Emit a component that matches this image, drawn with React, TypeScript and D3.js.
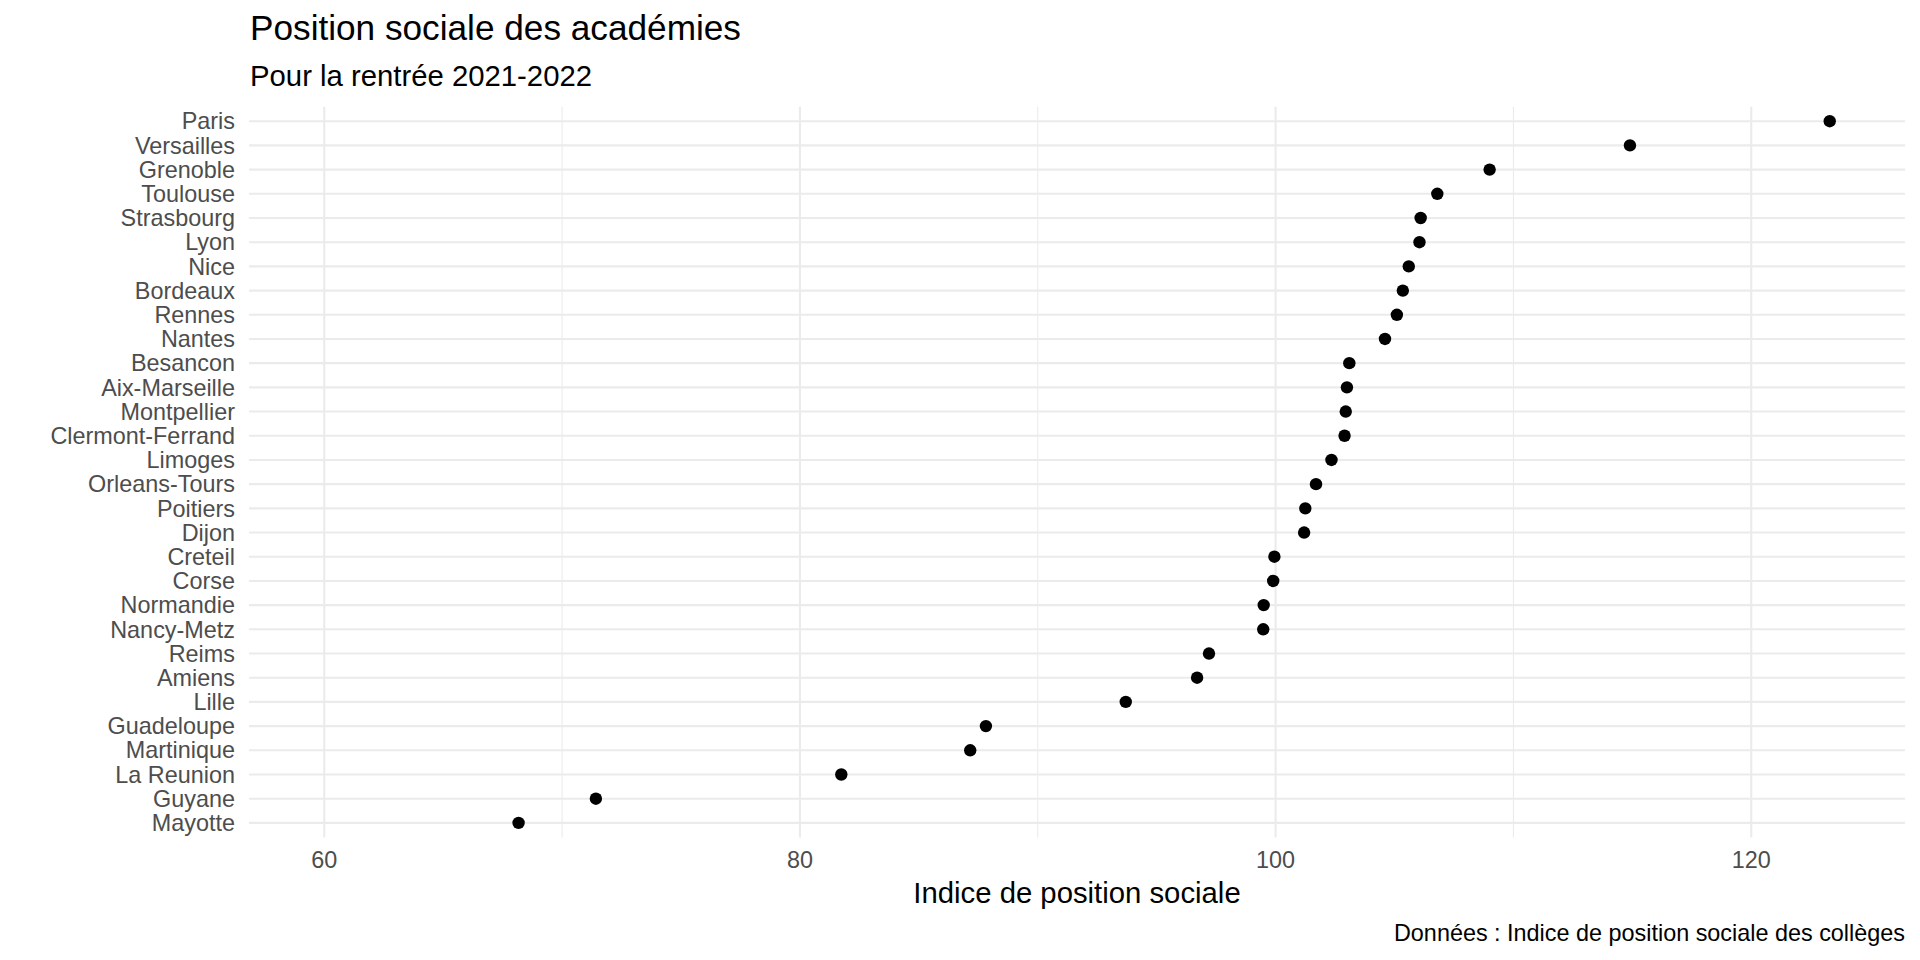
import React from "react";
import * as d3 from "d3";

const academies = [
  "Paris", "Versailles", "Grenoble", "Toulouse", "Strasbourg", "Lyon", "Nice",
  "Bordeaux", "Rennes", "Nantes", "Besancon", "Aix-Marseille", "Montpellier",
  "Clermont-Ferrand", "Limoges", "Orleans-Tours", "Poitiers", "Dijon", "Creteil",
  "Corse", "Normandie", "Nancy-Metz", "Reims", "Amiens", "Lille", "Guadeloupe",
  "Martinique", "La Reunion", "Guyane", "Mayotte",
];
const ips = [
  123.3, 114.9, 109.0, 106.8, 106.1, 106.05, 105.6, 105.35, 105.1, 104.6,
  103.1, 103.0, 102.95, 102.9, 102.35, 101.7, 101.25, 101.2, 99.95, 99.9,
  99.5, 99.48, 97.2, 96.7, 93.7, 87.82, 87.16, 81.74, 71.42, 68.17,
];
const majorTicks = [60, 80, 100, 120];
const minorTicks = [70, 90, 110];

const title = "Position sociale des académies";
const subtitle = "Pour la rentrée 2021-2022";
const xTitle = "Indice de position sociale";
const caption = "Données : Indice de position sociale des collèges";

export default function App() {
  const W = 1920, H = 960;
  const left = 249, right = 1905, top = 106.7, bottom = 837.4;
  const x = d3.scaleLinear().domain([56.835, 126.465]).range([left, right]);
  const y = d3.scalePoint<string>().domain(academies).range([top, bottom]).padding(0.6);
  const font = "'Liberation Sans', Arial, Helvetica, sans-serif";
  const grid = "#EBEBEB";
  return (
    <svg width={W} height={H} style={{ position: "absolute", left: 0, top: 0, background: "#fff" }} fontFamily={font}>
      {minorTicks.map((t) => (
        <line key={"mn" + t} x1={x(t)} x2={x(t)} y1={top} y2={bottom} stroke={grid} strokeWidth={1.1} />
      ))}
      {majorTicks.map((t) => (
        <line key={"mj" + t} x1={x(t)} x2={x(t)} y1={top} y2={bottom} stroke={grid} strokeWidth={2.1} />
      ))}
      {academies.map((a) => (
        <line key={"h" + a} x1={left} x2={right} y1={y(a)} y2={y(a)} stroke={grid} strokeWidth={2.1} />
      ))}
      {academies.map((a, i) => (
        <circle key={"p" + a} cx={x(ips[i])} cy={y(a)} r={6.2} fill="#000" />
      ))}
      {academies.map((a) => (
        <text key={"l" + a} x={235} y={(y(a) as number) + 8.2} textAnchor="end" fontSize={23.4} fill="#4D4D4D">{a}</text>
      ))}
      {majorTicks.map((t) => (
        <text key={"t" + t} x={x(t)} y={868} textAnchor="middle" fontSize={23.4} fill="#4D4D4D">{t}</text>
      ))}
      <text x={(left + right) / 2} y={903} textAnchor="middle" fontSize={29.3} fill="#000">{xTitle}</text>
      <text x={right} y={941} textAnchor="end" fontSize={23.4} fill="#000">{caption}</text>
      <text x={250} y={40} fontSize={35.2} fill="#000">{title}</text>
      <text x={250} y={85.5} fontSize={29.3} fill="#000">{subtitle}</text>
    </svg>
  );
}
